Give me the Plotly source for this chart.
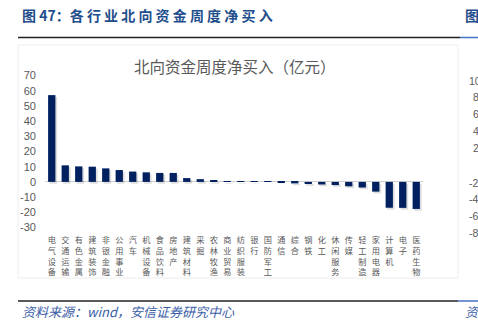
import plotly.graph_objects as go

categories = ["电气设备", "交通运输", "有色金属", "建筑装饰", "非银金融", "公用事业", "汽车",
              "机械设备", "食品饮料", "房地产", "建筑材料", "采掘", "农林牧渔", "商业贸易",
              "纺织服装", "银行", "国防军工", "通信", "综合", "钢铁", "化工", "休闲服务",
              "传媒", "轻工制造", "家用电器", "计算机", "电子", "医药生物"]
net_buy = [57.1, 10.9, 10.2, 10.0, 8.9, 7.8, 6.8, 6.3, 5.9, 5.9, 2.5, 1.8, 1.0, 0.4,
           0.3, 0.3, 0.1, -0.1, -1.0, -1.4, -1.7, -2.1, -2.9, -3.7, -6.4, -17.0, -17.1, -17.8]
y_ticks = [70, 60, 50, 40, 30, 20, 10, 0, -10, -20, -30]
side_ticks = ["10", "8", "6", "4", "2", "-2", "-4", "-6", "-8"]

W, H = 478, 329
L, R, T, B = 45, 55, 74, 100
PW, PH = W - L - R, H - T - B


def px(x):
    return (x - L) / PW


def py(y):
    return (H - B - y) / PH


xs = list(range(len(categories)))
ticktext = ["<br>".join(list(c)) for c in categories]

fig = go.Figure()
# soft shadow behind bars
fig.add_trace(go.Bar(x=xs, y=net_buy, base=[-1.2] * len(xs),
                     width=0.56, offset=-0.16,
                     marker=dict(color="rgba(0,0,0,0.13)", line=dict(width=0)),
                     hoverinfo="skip", showlegend=False))
fig.add_trace(go.Bar(x=xs, y=net_buy, width=0.54, offset=-0.27,
                     marker=dict(color="#002060", line=dict(width=0)),
                     showlegend=False))

fig.update_layout(
    width=W, height=H, barmode="overlay",
    margin=dict(l=L, r=R, t=T, b=B, pad=0),
    paper_bgcolor="white", plot_bgcolor="white",
    font=dict(family="Liberation Sans, Noto Sans CJK SC", color="#595959"),
    xaxis=dict(range=[-0.5, len(xs) - 0.5], tickmode="array", tickvals=xs,
               ticktext=ticktext, tickangle=0, showgrid=False, showline=False,
               ticks="", ticklabelstandoff=5,
               tickfont=dict(size=8.2, color="#595959", family="Noto Sans CJK SC")),
    yaxis=dict(range=[-31, 71], tickmode="array", tickvals=y_ticks,
               ticktext=[str(v) for v in y_ticks], showgrid=False, showline=False,
               ticks="", ticklabelstandoff=8,
               zeroline=True, zerolinecolor="#D0D0D0", zerolinewidth=1,
               tickfont=dict(size=11, color="#595959", family="Liberation Sans")),
)

shapes = []
shapes.append(dict(type="rect", xref="paper", yref="paper", x0=px(18), x1=px(458),
                   y0=py(278), y1=py(45), line=dict(color="#EDEDED", width=1)))
shapes.append(dict(type="line", xref="paper", yref="paper", x0=px(18), x1=px(460),
                   y0=py(37.5), y1=py(37.5), line=dict(color="#222222", width=1.5)))
shapes.append(dict(type="line", xref="paper", yref="paper", x0=px(460), x1=px(478),
                   y0=py(37.5), y1=py(37.5), line=dict(color="#4472C4", width=1.5)))
shapes.append(dict(type="line", xref="paper", yref="paper", x0=px(18), x1=px(458),
                   y0=py(301), y1=py(301), line=dict(color="#222222", width=1.5)))
shapes.append(dict(type="line", xref="paper", yref="paper", x0=px(458), x1=px(478),
                   y0=py(301), y1=py(301), line=dict(color="#4472C4", width=1.5)))
fig.update_layout(shapes=shapes)

ann = []
ann.append(dict(text="<b>图 47：各 行 业 北 向 资 金 周 度 净 买 入</b>", xref="paper", yref="paper",
                x=px(20), y=py(15), xanchor="left", yanchor="middle", showarrow=False,
                font=dict(size=14, color="#1F4E8C", family="Noto Sans CJK SC")))
ann.append(dict(text="<b>图</b>", xref="paper", yref="paper",
                x=px(463), y=py(15), xanchor="left", yanchor="middle", showarrow=False,
                font=dict(size=14, color="#1F4E8C", family="Noto Sans CJK SC")))
ann.append(dict(text="北向资金周度净买入（亿元）", xref="paper", yref="paper",
                x=px(235), y=py(66), xanchor="center", yanchor="middle", showarrow=False,
                font=dict(size=15.5, color="#595959", family="Noto Sans CJK SC")))
ann.append(dict(text="<i>资料来源：wind，安信证券研究中心</i>", xref="paper", yref="paper",
                x=px(20), y=py(311), xanchor="left", yanchor="middle", showarrow=False,
                font=dict(size=13, color="#3B5EA8", family="Noto Sans CJK SC")))
ann.append(dict(text="<i>资</i>", xref="paper", yref="paper",
                x=px(463), y=py(311), xanchor="left", yanchor="middle", showarrow=False,
                font=dict(size=13, color="#3B5EA8", family="Noto Sans CJK SC")))
side_y = [81, 97, 114, 131, 148, 183, 199, 216, 233]
for t, yy in zip(side_ticks, side_y):
    xx = 467 if t.startswith("-") or len(t) == 2 else 471
    ann.append(dict(text=t, xref="paper", yref="paper", x=px(xx), y=py(yy),
                    xanchor="left", yanchor="middle", showarrow=False,
                    font=dict(size=10.5, color="#595959", family="Liberation Sans")))
fig.update_layout(annotations=ann)

fig.write_html("out.html")
